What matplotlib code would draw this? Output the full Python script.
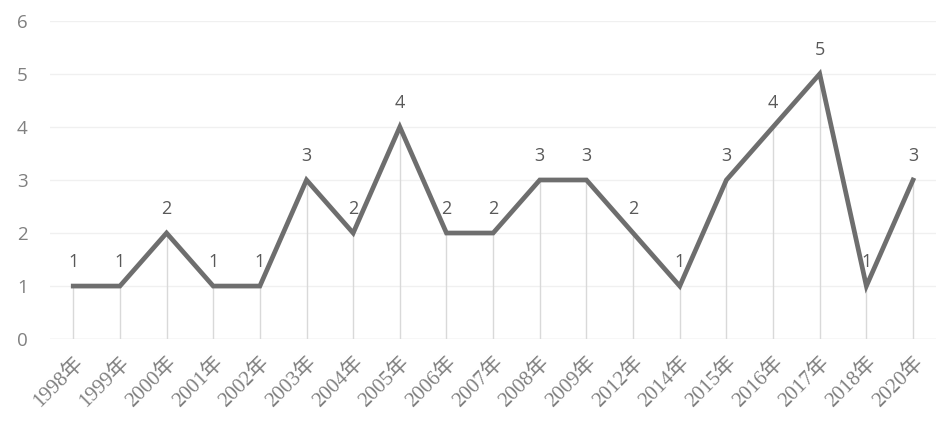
import matplotlib
matplotlib.use("Agg")
import matplotlib.pyplot as plt

years = ['1998年', '1999年', '2000年', '2001年', '2002年', '2003年', '2004年',
         '2005年', '2006年', '2007年', '2008年', '2009年', '2012年', '2014年',
         '2015年', '2016年', '2017年', '2018年', '2020年']
counts = [1, 1, 2, 1, 1, 3, 2, 4, 2, 2, 3, 3, 2, 1, 3, 4, 5, 1, 3]

fig = plt.figure(figsize=(9.42, 4.26), dpi=100)
ax = fig.add_axes([0.053, 0.204, 0.941, 0.747])

x = list(range(len(years)))

# horizontal grid
for v in range(0, 7):
    ax.axhline(v, color='#f0f0f0', lw=1, zorder=0)
ax.axhline(0, color='#e6e6e6', lw=1, zorder=0)

# drop lines
ax.vlines(x, 0, counts, color='#d9d9d9', lw=1, zorder=1)

ax.plot(x, counts, color='#6e6e6e', lw=3.4, solid_joinstyle='miter', zorder=3)

for xi, c in zip(x, counts):
    ax.annotate(str(c), (xi, c), xytext=(0, 11), textcoords='offset points',
                ha='center', va='bottom', fontsize=13, color='#595959',
                family=['Open Sans', 'DejaVu Sans'])

ax.set_xlim(-0.5, len(years) - 0.5)
ax.set_ylim(0, 6)
ax.set_yticks(range(0, 7))
ax.set_xticks(x)
ax.set_xticklabels(years, rotation=45, ha='right', rotation_mode='anchor',
                   family=['Liberation Serif', 'Noto Sans CJK SC'],
                   fontsize=15, color='#808080')
for lbl in ax.get_yticklabels():
    lbl.set_family(['Open Sans', 'DejaVu Sans'])
ax.tick_params(axis='y', labelsize=13.5, labelcolor='#808080', length=0, pad=16)
ax.tick_params(axis='x', length=0, pad=10)
for s in ax.spines.values():
    s.set_visible(False)

fig.savefig('out.png', dpi=100)
